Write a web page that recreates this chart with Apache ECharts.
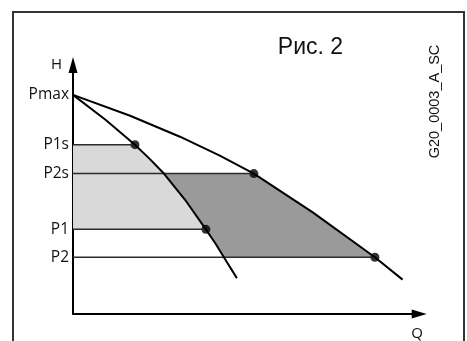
<!DOCTYPE html>
<html>
<head>
<meta charset="utf-8">
<script src="https://cdn.jsdelivr.net/npm/echarts@6/dist/echarts.min.js"></script>
<style>
  html, body { margin: 0; padding: 0; background: #fff; }
  #chart { width: 467px; height: 341px; }
</style>
</head>
<body>
<div id="chart"></div>
<script>
// pressure levels on the H axis
const levelNames = ["Pmax", "P1s", "P2s", "P1", "P2"];
const levelValues = [88, 68, 56.4, 34, 22.8];

// pump curves, [Q, H]
const curve1 = [[0, 88], [9.38, 78], [17.89, 68], [22.08, 62.4], [26.26, 56.4], [32.73, 45.2], [38.38, 34], [41.1, 28.4], [43.58, 22.8], [47.33, 14.4]];
const curve2 = [[0, 88], [16.5, 79.6], [30.9, 71.2], [42.4, 63.6], [52.24, 56.4], [69.26, 40.8], [87.2, 22.8], [95.2, 13.8]];

// shaded areas
const lightArea = [[0, 68], [17.89, 68], [22.08, 62.4], [26.26, 56.4], [32.73, 45.2], [38.38, 34], [0, 34]];
const darkArea = [[26.26, 56.4], [52.24, 56.4], [69.26, 40.8], [87.2, 22.8], [43.58, 22.8], [41.1, 28.4], [38.38, 34], [32.73, 45.2]];

// horizontal lines P1s, P2s, P1, P2 run from the H axis to these Q values
const lineLevels = [68, 56.4, 34, 22.8];
const lineEnds = [17.89, 52.24, 38.38, 87.2];

// switch points
const dots = [[17.89, 68], [52.24, 56.4], [38.38, 34], [87.2, 22.8]];

const labelFont = "Open Sans";

function areaSeries(points, color) {
  return {
    type: "custom",
    silent: true,
    data: [[0, 0]],
    renderItem: function(params, api) {
      return {
        type: "polygon",
        shape: { points: points.map(p => api.coord(p)) },
        style: { fill: color }
      };
    }
  };
}

const levelSeries = lineLevels.map((h, i) => ({
  type: "line",
  silent: true,
  symbol: "none",
  data: [[0, h], [lineEnds[i], h]],
  lineStyle: { color: "#2b2b2b", width: 1.5 }
}));

const chart = echarts.init(document.getElementById("chart"));
chart.setOption({
  animation: false,
  backgroundColor: "#fff",
  grid: { left: 73, right: 47.8, top: 65, bottom: 26 },
  xAxis: {
    type: "value",
    min: 0,
    max: 100,
    name: "Q",
    nameLocation: "end",
    nameGap: -2,
    nameTextStyle: {
      fontFamily: labelFont, fontSize: 15, color: "#111",
      align: "center", verticalAlign: "top", padding: [12, 0, 0, 0]
    },
    axisLine: {
      lineStyle: { color: "#000", width: 2 },
      symbol: ["none", "triangle"],
      symbolSize: [9, 15]
    },
    axisTick: { show: false },
    axisLabel: { show: false },
    splitLine: { show: false }
  },
  yAxis: {
    type: "value",
    min: 0,
    max: 100,
    name: "H",
    nameLocation: "end",
    nameGap: 0,
    nameTextStyle: {
      fontFamily: labelFont, fontSize: 15, color: "#111",
      align: "right", verticalAlign: "middle", padding: [0, 11, 0, 0]
    },
    axisLine: {
      onZero: false,
      lineStyle: { color: "#000", width: 2 },
      symbol: ["none", "triangle"],
      symbolSize: [9, 16]
    },
    axisTick: { show: false },
    splitLine: { show: false },
    axisLabel: {
      customValues: levelValues,
      margin: 4,
      fontFamily: labelFont,
      fontSize: 15.5,
      color: "#111",
      formatter: function(v) {
        const i = levelValues.indexOf(v);
        return i >= 0 ? levelNames[i] : "";
      }
    }
  },
  graphic: [
    {
      type: "rect",
      silent: true,
      shape: { x: 13, y: 12, width: 451, height: 340 },
      style: { fill: "none", stroke: "#333", lineWidth: 2 }
    },
    {
      type: "text",
      silent: true,
      x: 310.5,
      y: 48,
      style: {
        text: "Рис. 2",
        font: "23px 'Liberation Sans'",
        fill: "#111",
        align: "center",
        verticalAlign: "middle"
      }
    },
    {
      type: "text",
      silent: true,
      x: 435,
      y: 101.5,
      rotation: Math.PI / 2,
      style: {
        text: "G20_0003_A_SC",
        font: "14.5px 'Liberation Sans'",
        fill: "#111",
        align: "center",
        verticalAlign: "middle"
      }
    }
  ],
  series: [
    areaSeries(lightArea, "#d9d9d9"),
    areaSeries(darkArea, "#9a9a9a"),
    ...levelSeries,
    {
      type: "line",
      silent: true,
      symbol: "none",
      data: curve1,
      lineStyle: { color: "#000", width: 2 }
    },
    {
      type: "line",
      silent: true,
      symbol: "none",
      data: curve2,
      lineStyle: { color: "#000", width: 2 }
    },
    {
      type: "scatter",
      silent: true,
      symbolSize: 9,
      data: dots,
      itemStyle: { color: "#000" }
    }
  ]
});
</script>
</body>
</html>
